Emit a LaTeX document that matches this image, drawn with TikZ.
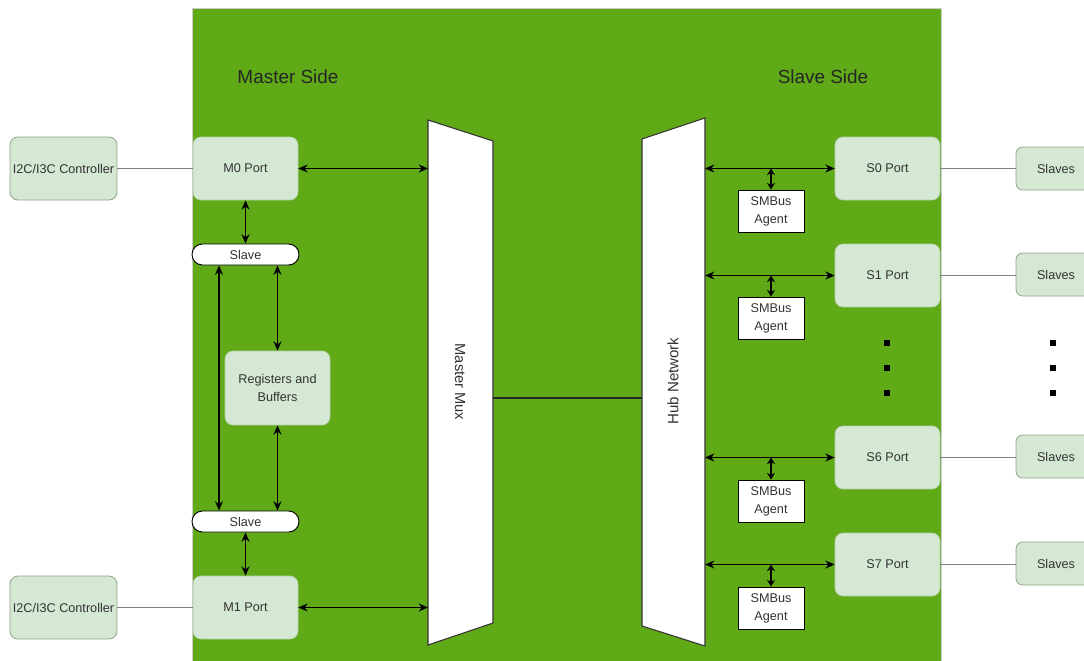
\documentclass[tikz,border=0pt]{standalone}
\usepackage{fontspec}
\setmainfont{Liberation Sans}
\usetikzlibrary{arrows.meta}
\definecolor{hubgreen}{HTML}{60A917}
\definecolor{boxfill}{HTML}{D5E8D4}
\definecolor{boxline}{HTML}{B3CFA8}
\definecolor{txt}{HTML}{333333}
\begin{document}
\begin{tikzpicture}[x=0.75pt,y=-0.75pt,
  every node/.style={font=\fontsize{9.5}{12}\selectfont, text=txt, align=center, inner sep=1pt},
  portbox/.style={draw=boxline, fill=boxfill, rounded corners=6pt, minimum width=78.75pt, minimum height=47.25pt, line width=0.5pt},
  ctrlbox/.style={draw=boxline!80!black, fill=boxfill, rounded corners=6pt, minimum width=80.25pt, minimum height=47.25pt, line width=0.6pt},
  slavesbox/.style={draw=boxline!80!black, fill=boxfill, rounded corners=5pt, minimum width=60pt, minimum height=32.25pt, line width=0.6pt},
  pill/.style={draw=black, fill=white, rounded corners=7.8pt, minimum width=80.25pt, minimum height=15.75pt, line width=0.7pt},
  regbox/.style={draw=boxline, fill=boxfill, rounded corners=6pt, minimum width=78.75pt, minimum height=55.5pt, line width=0.5pt},
  agent/.style={draw=black, fill=white, minimum width=49.5pt, minimum height=31.5pt, line width=0.7pt, font=\fontsize{9.5}{13.5}\selectfont},
  biarrow/.style={{Stealth[length=7pt,width=6pt]}-{Stealth[length=7pt,width=6pt]}, line width=0.95pt, black},
  smallbi/.style={{Stealth[length=5pt,width=6pt]}-{Stealth[length=5pt,width=6pt]}, line width=0.95pt, black},
  plainline/.style={draw=gray, line width=0.8pt},
  muxshape/.style={draw=black!80, fill=white, line width=0.8pt},
  dotmark/.style={fill=black, minimum size=4.5pt, inner sep=0pt}
]
\useasboundingbox (0,0) rectangle (1084,660);
\clip (0,0) rectangle (1084,660);
\fill[white] (0,0) rectangle (1084,660);
% main green area
\draw[fill=hubgreen, draw=gray!40, line width=0.6pt] (192,8) rectangle (941,668);

\node[font=\fontsize{14.2}{16}\selectfont, text=black!85] (mside) at (288,77) {Master Side};
\node[font=\fontsize{14.2}{16}\selectfont, text=black!85] (sside) at (823,77) {Slave Side};

% mux shapes
\draw[muxshape] (428,120) -- (493,141) -- (493,623) -- (428,645) -- cycle;
\draw[muxshape] (642,139) -- (705,118) -- (705,646) -- (642,626) -- cycle;
\node[rotate=-90, font=\fontsize{11}{13}\selectfont] (mmux) at (460,382) {Master Mux};
\node[rotate=90, font=\fontsize{11.3}{13}\selectfont] (hub) at (673,381) {Hub Network};
\coordinate (muxL) at (428,380);
\coordinate (muxR) at (493,398);
\coordinate (hubL) at (642,398);
\coordinate (hubR) at (705,380);

% controllers and master ports
\node[ctrlbox] (c0) at (63.5,168.5) {I2C/I3C Controller};
\node[ctrlbox] (c1) at (63.5,607.5) {I2C/I3C Controller};
\node[portbox] (m0) at (245.5,168.5) {M0 Port};
\node[portbox] (m1) at (245.5,607.5) {M1 Port};
\node[pill] (s0slave) at (245.5,254.5) {Slave};
\node[pill] (s1slave) at (245.5,521.5) {Slave};
\node[regbox] (reg) at (277.5,388) {Registers and\\[1pt]Buffers};

\draw[plainline] (c0.east) -- (m0.west);
\draw[plainline] (c1.east) -- (m1.west);
\draw[biarrow] (m0.south) -- (s0slave.north);
\draw[biarrow] (m1.north) -- (s1slave.south);
\draw[biarrow] (s0slave.south -| 219,0) -- (s1slave.north -| 219,0);
\draw[biarrow] (s0slave.south -| reg.north) -- (reg.north);
\draw[biarrow] (reg.south) -- (s1slave.north -| reg.south);
\draw[biarrow] (m0.east) -- (m0.east -| muxL);
\draw[biarrow] (m1.east) -- (m1.east -| muxL);
\draw[line width=0.9pt, black!85] (muxR) -- (hubL);

% slave ports
\node[portbox] (p0) at (887.5,168.5) {S0 Port};
\node[portbox] (p1) at (887.5,275.5) {S1 Port};
\node[portbox] (p6) at (887.5,457.5) {S6 Port};
\node[portbox] (p7) at (887.5,564.5) {S7 Port};
\node[agent] (a0) at (771,211) {SMBus\\Agent};
\node[agent] (a1) at (771,318) {SMBus\\Agent};
\node[agent] (a6) at (771,501) {SMBus\\Agent};
\node[agent] (a7) at (771,608) {SMBus\\Agent};
\node[slavesbox] (v0) at (1056,168.5) {Slaves};
\node[slavesbox] (v1) at (1056,274.5) {Slaves};
\node[slavesbox] (v6) at (1056,456.5) {Slaves};
\node[slavesbox] (v7) at (1056,563.5) {Slaves};

\foreach \p/\a/\v in {p0/a0/v0, p1/a1/v1, p6/a6/v6, p7/a7/v7}{
  \draw[biarrow] (\p.west -| hubR) -- (\p.west);
  \draw[smallbi] (\p.west -| \a.north) -- (\a.north);
  \draw[plainline] (\p.east) -- (\p.east -| \v.west);
}

% ellipsis dots
\node[dotmark] (d1) at (887,343) {};
\node[dotmark] (d2) at (887,368) {};
\node[dotmark] (d3) at (887,393) {};
\node[dotmark] (e1) at (1053,343) {};
\node[dotmark] (e2) at (1053,368) {};
\node[dotmark] (e3) at (1053,393) {};
\end{tikzpicture}
\end{document}
